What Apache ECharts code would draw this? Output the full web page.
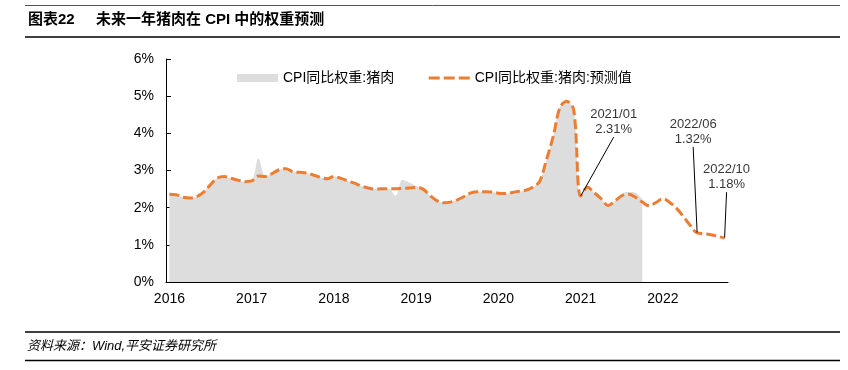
<!DOCTYPE html>
<html>
<head>
<meta charset="utf-8">
<script src="https://cdn.jsdelivr.net/npm/echarts@6/dist/echarts.min.js"></script>
<style>
html,body{margin:0;padding:0;background:#fff;}
#chart{width:848px;height:370px;}
</style>
</head>
<body>
<div id="chart"></div>
<script>
// ---- data ----
var years = ['2016','2017','2018','2019','2020','2021','2022'];
var monthsOfYear = ['01','02','03','04','05','06','07','08','09','10','11','12'];
var lastMonthIndex = 81; // 2022/10
var categories = [];
years.forEach(function (y) { monthsOfYear.forEach(function (m) { categories.push(y + '/' + m); }); });
categories = categories.slice(0, lastMonthIndex + 1);

var seriesActualName = 'CPI同比权重:猪肉';
var seriesForecastName = 'CPI同比权重:猪肉:预测值';

// actual weight (2016/01 - 2021/10), %
var actualValues = [
  2.36, 2.35, 2.28, 2.26, 2.30, 2.42, 2.62, 2.80, 2.84, 2.79, 2.74, 2.70,
  2.72, 3.33, 2.85, 2.92, 3.02, 3.05, 2.97, 2.95, 2.93, 2.88, 2.82, 2.78,
  2.84, 2.79, 2.72, 2.66, 2.58, 2.53, 2.50, 2.51, 2.51, 2.32, 2.75, 2.68,
  2.58, 2.50, 2.33, 2.19, 2.13, 2.15, 2.21, 2.30, 2.40, 2.43, 2.43, 2.42,
  2.39, 2.38, 2.41, 2.44, 2.47, 2.55, 2.70, 3.28, 3.92, 4.70, 4.86, 4.62,
  2.31, 2.55, 2.40, 2.24, 2.06, 2.18, 2.38, 2.42, 2.40, 2.22
];
// forecast weight (2016/01 - 2022/10), %
var forecastValues = [
  2.36, 2.35, 2.28, 2.26, 2.30, 2.42, 2.62, 2.80, 2.84, 2.79, 2.74, 2.70,
  2.72, 2.85, 2.84, 2.92, 3.02, 3.05, 2.97, 2.95, 2.93, 2.88, 2.82, 2.78,
  2.84, 2.79, 2.72, 2.66, 2.58, 2.53, 2.50, 2.51, 2.51, 2.51, 2.52, 2.53,
  2.54, 2.50, 2.33, 2.19, 2.13, 2.15, 2.21, 2.30, 2.40, 2.43, 2.43, 2.42,
  2.39, 2.38, 2.41, 2.44, 2.47, 2.55, 2.70, 3.28, 3.92, 4.70, 4.86, 4.62,
  2.31, 2.55, 2.40, 2.24, 2.06, 2.18, 2.32, 2.36, 2.28, 2.15, 2.05, 2.14,
  2.24, 2.14, 1.98, 1.76, 1.52, 1.32, 1.30, 1.27, 1.23, 1.18
];
// annotated points
var annoMonths = ['2021/01', '2022/06', '2022/10'];
var annoValues = [2.31, 1.32, 1.18];

var yTicks = [0, 1, 2, 3, 4, 5, 6];

// ---- chart ----
var FONT = '"Liberation Sans", Arial, "Noto Sans CJK SC", sans-serif';
var chart = echarts.init(document.getElementById('chart'), null, {renderer: 'canvas'});
var annoData = annoMonths.map(function (m, i) { return [m, annoValues[i]]; });
var annoShift = [[33, -74], [-4, -101], [2, -61]];

chart.setOption({
  animation: false,
  backgroundColor: '#fff',
  textStyle: {fontFamily: FONT},
  grid: {left: 166, right: 120, top: 59, bottom: 88},
  legend: {
    left: 232, top: 66,
    itemWidth: 41, itemHeight: 8, itemGap: 33,
    textStyle: {fontSize: 14, color: '#000', fontFamily: FONT},
    data: [
      {name: seriesActualName, icon: 'rect'},
      {name: seriesForecastName,
       itemStyle: {opacity: 0},
       lineStyle: {width: 3, type: [11, 4], color: '#ED7D31'}}
    ]
  },
  xAxis: {
    type: 'category',
    data: categories,
    boundaryGap: true,
    axisLine: {lineStyle: {color: '#000', width: 1}},
    axisTick: {inside: true, length: 5, interval: 11, lineStyle: {color: '#000'}},
    axisLabel: {
      interval: 11, margin: 10, fontSize: 14, color: '#000', fontFamily: FONT,
      formatter: function (v) { return v.slice(0, 4); }
    },
    splitLine: {show: false}
  },
  yAxis: {
    type: 'value',
    min: yTicks[0], max: yTicks[yTicks.length - 1], interval: 1,
    axisLine: {show: true, lineStyle: {color: '#000', width: 1}},
    axisTick: {show: true, inside: true, length: 5, lineStyle: {color: '#000'}},
    axisLabel: {margin: 12, fontSize: 14, color: '#000', fontFamily: FONT, formatter: '{value}%'},
    splitLine: {show: false}
  },
  series: [
    {
      name: seriesActualName,
      type: 'line',
      data: actualValues,
      smooth: 0.35,
      symbol: 'none',
      color: '#DDDDDD',
      itemStyle: {color: '#DDDDDD'},
      lineStyle: {width: 0, color: '#DDDDDD'},
      areaStyle: {color: '#DDDDDD', opacity: 1},
      z: 1
    },
    {
      name: seriesForecastName,
      type: 'line',
      data: forecastValues,
      smooth: 0.35,
      symbol: 'none',
      color: '#ED7D31',
      itemStyle: {color: '#ED7D31'},
      lineStyle: {width: 3, color: '#ED7D31', type: [10, 4], cap: 'butt'},
      z: 3
    },
    {
      name: 'annotation',
      type: 'scatter',
      data: annoData,
      symbolSize: 1,
      itemStyle: {color: 'rgba(0,0,0,0)'},
      silent: true,
      z: 5,
      label: {
        show: true,
        position: 'inside',
        fontSize: 13,
        lineHeight: 15,
        color: '#000',
        fontFamily: FONT,
        formatter: function (p) { return p.value[0] + '\n' + p.value[1].toFixed(2) + '%'; }
      },
      labelLine: {show: true, length2: 0, lineStyle: {color: '#000', width: 1}},
      labelLayout: function (p) {
        return {dx: annoShift[p.dataIndex][0], dy: annoShift[p.dataIndex][1]};
      }
    }
  ],
  graphic: [
    {type: 'line', shape: {x1: 25, y1: 5.5, x2: 840, y2: 5.5}, style: {stroke: '#555', lineWidth: 1}},
    {type: 'text', left: 28, top: 12, style: {text: '图表22', font: 'bold 15px ' + FONT, fill: '#000'}},
    {type: 'text', left: 96, top: 12, style: {text: '未来一年猪肉在 CPI 中的权重预测', font: 'bold 15px ' + FONT, fill: '#000'}},
    {type: 'line', shape: {x1: 25, y1: 37, x2: 840, y2: 37}, style: {stroke: '#000', lineWidth: 1.5}},
    {type: 'line', shape: {x1: 25, y1: 332, x2: 840, y2: 332}, style: {stroke: '#000', lineWidth: 1.5}},
    {type: 'text', left: 27, top: 340, style: {text: '资料来源：Wind,平安证券研究所', font: 'italic 13px ' + FONT, fill: '#000'}},
    {type: 'line', shape: {x1: 25, y1: 360.5, x2: 840, y2: 360.5}, style: {stroke: '#000', lineWidth: 1.5}}
  ]
});
</script>
</body>
</html>
